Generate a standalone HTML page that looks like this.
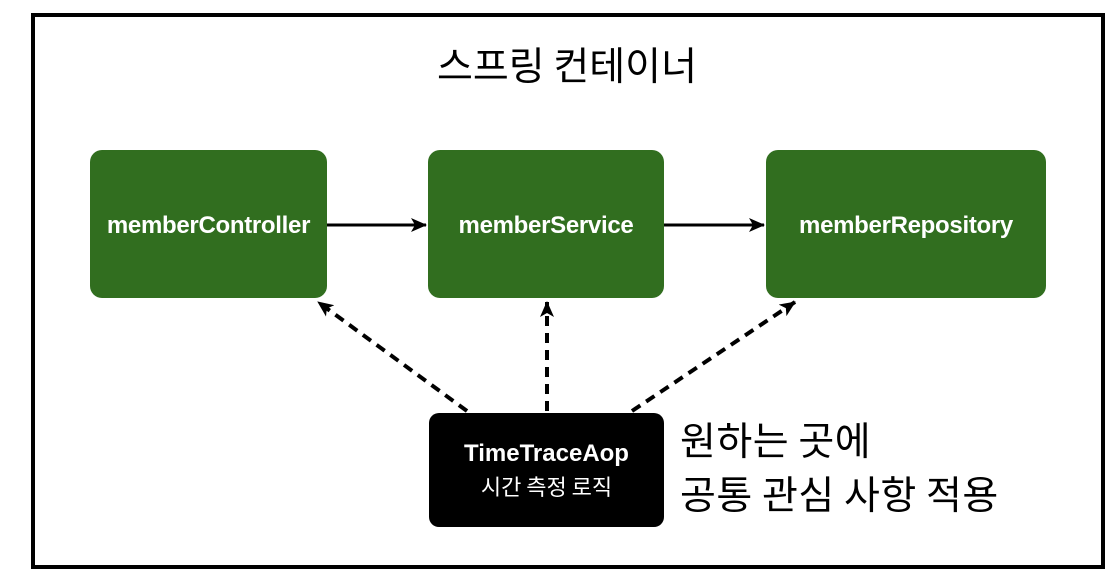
<!DOCTYPE html>
<html><head><meta charset="utf-8"><style>
body{margin:0;width:1120px;height:586px;background:#fff;overflow:hidden;font-family:"Liberation Sans","Noto Sans CJK KR",sans-serif}
.abs{position:absolute}
.g{position:absolute;background:#316e1f;border-radius:12px;color:#fff;font-size:24px;font-weight:bold;display:flex;align-items:center;justify-content:center;letter-spacing:-0.3px;padding-top:4px;box-sizing:border-box}
</style></head><body>
<div class="abs" style="left:31px;top:13px;width:1066px;height:548px;border:4px solid #000"></div>
<div class="abs" style="left:0;width:1134px;top:36px;text-align:center;font-size:39px;font-family:'Noto Sans CJK KR',sans-serif;color:#000">스프링 컨테이너</div>
<div class="g" style="left:90px;top:150px;width:237px;height:148px">memberController</div>
<div class="g" style="left:428px;top:150px;width:236px;height:148px">memberService</div>
<div class="g" style="left:766px;top:150px;width:280px;height:148px">memberRepository</div>
<div class="abs" style="left:429px;top:413px;width:235px;height:114px;background:#000;border-radius:10px;color:#fff;font-size:24px;font-weight:bold;display:flex;flex-direction:column;align-items:center;justify-content:center;line-height:32px"><div>TimeTraceAop</div><div style="font-family:'Noto Sans CJK KR',sans-serif;font-size:22px;font-weight:normal">시간 측정 로직</div></div>
<div class="abs" style="left:680px;top:412px;font-size:39px;line-height:54px;font-family:'Noto Sans CJK KR',sans-serif;letter-spacing:0.5px">원하는 곳에<br>공통 관심 사항 적용</div>
<svg class="abs" style="left:0;top:0" width="1120" height="586">
<defs><marker id="b" markerWidth="16" markerHeight="14" refX="15" refY="7" orient="auto" markerUnits="userSpaceOnUse"><path d="M0,0 L16,7 L0,14 L4,7 z" fill="#000"/></marker></defs>
<line x1="327" y1="225" x2="426" y2="225" stroke="#000" stroke-width="3" marker-end="url(#b)"/>
<line x1="664" y1="225" x2="764" y2="225" stroke="#000" stroke-width="3" marker-end="url(#b)"/>
<g stroke="#000" stroke-width="4" stroke-dasharray="10,7" fill="none">
<line x1="467" y1="411" x2="318" y2="302" marker-end="url(#b)"/>
<line x1="547" y1="411" x2="547" y2="302" marker-end="url(#b)"/>
<line x1="632" y1="411" x2="795" y2="302" marker-end="url(#b)"/>
</g>
</svg>
</body></html>
